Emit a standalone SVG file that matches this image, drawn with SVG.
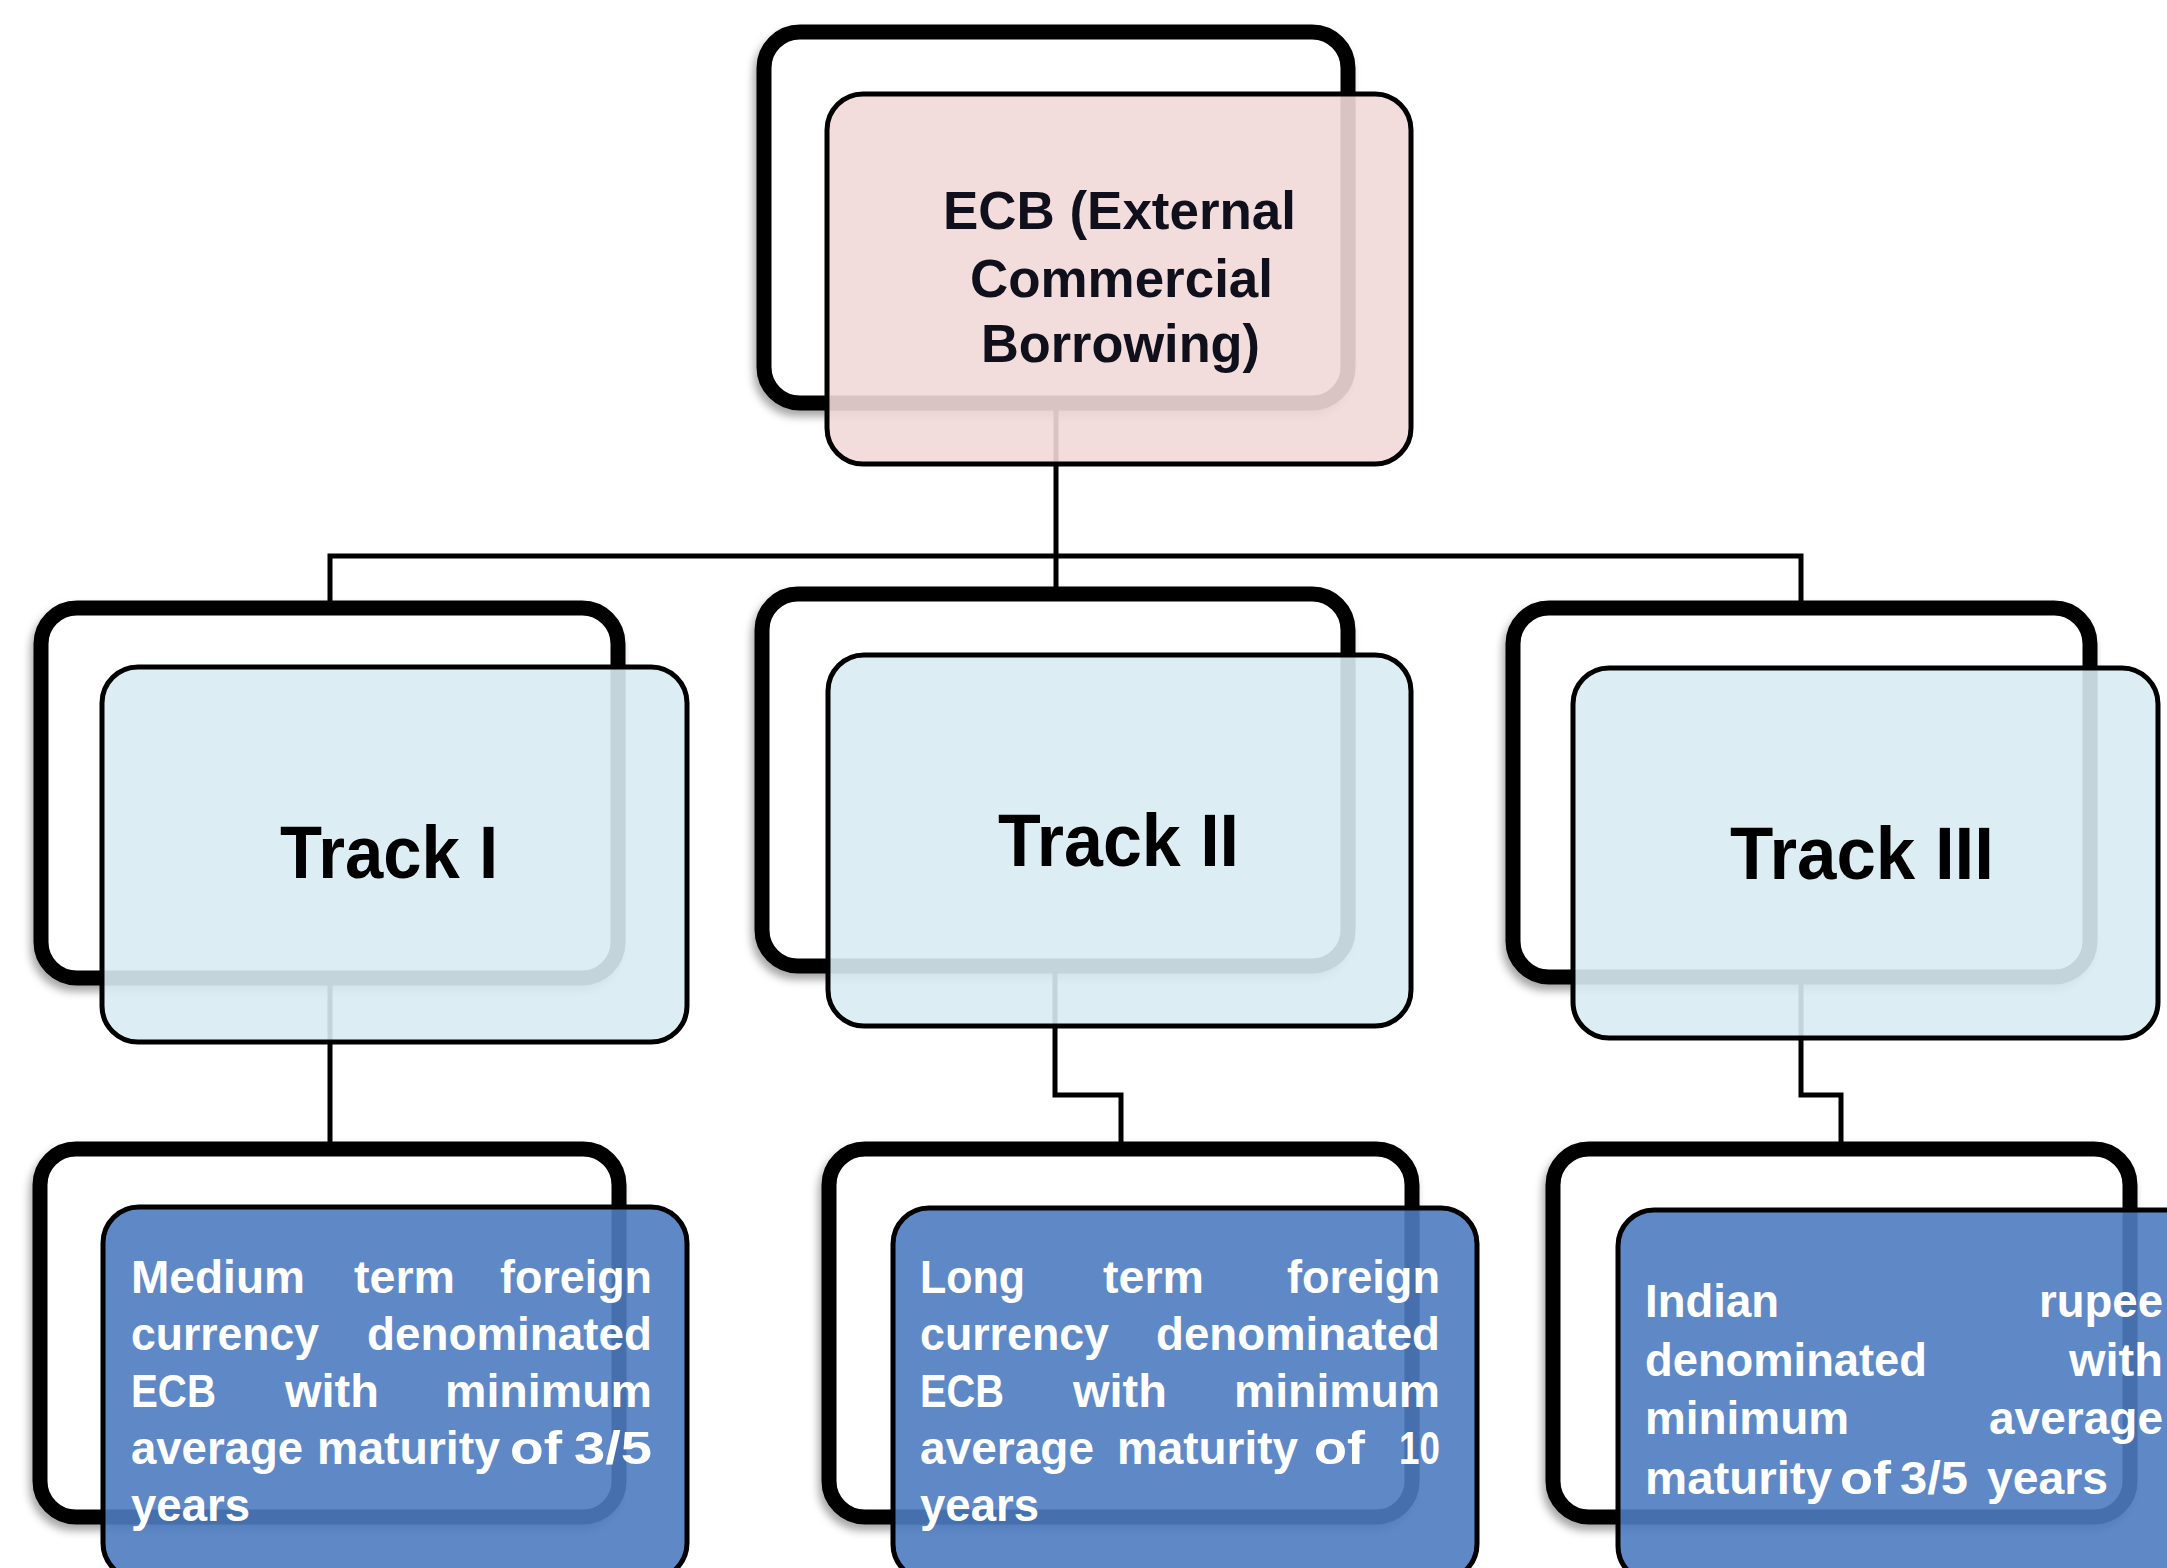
<svg xmlns="http://www.w3.org/2000/svg" width="2167" height="1568" viewBox="0 0 2167 1568">
<defs>
<filter id="sh" x="-10%" y="-10%" width="120%" height="125%">
<feDropShadow dx="-3" dy="6" stdDeviation="4" flood-color="#000" flood-opacity="0.35"/>
</filter>
<style>
.back{fill:#ffffff;stroke:#000;stroke-width:15;filter:url(#sh)}
.front{stroke:#000;stroke-width:5;fill-opacity:0.9}
.pink{fill:#f1d9d8}
.light{fill:#d8ecf2}
.dark{fill:#4d7cc0}
.conn{fill:none;stroke:#000;stroke-width:5}
.t{font-family:"Liberation Sans",Arial,sans-serif;font-weight:bold}
.top{font-size:53px;fill:#10101c}
.trk{font-size:74px;fill:#000}
.lt{font-size:46px;fill:#ffffff}
</style>
</defs>
<rect width="2167" height="1568" fill="#ffffff"/>

<g id="connectors">
<path class="conn" d="M1056 408 V594"/>
<path class="conn" d="M330 608 V556 H1801 V608"/>
<path class="conn" d="M330 978 V1149"/>
<path class="conn" d="M1055 966 V1095 H1121 V1149"/>
<path class="conn" d="M1801 977 V1095 H1841 V1149"/>
</g>

<g id="node-ecb">
<rect class="back" x="764" y="32" width="584" height="371" rx="36"/>
<rect class="front pink" x="827" y="94" width="584" height="370" rx="36"/>
<text class="t top" x="943" y="229" textLength="353" lengthAdjust="spacingAndGlyphs">ECB (External</text>
<text class="t top" x="970" y="297" textLength="303" lengthAdjust="spacingAndGlyphs">Commercial</text>
<text class="t top" x="981" y="362" textLength="279" lengthAdjust="spacingAndGlyphs">Borrowing)</text>
</g>

<g id="node-track1">
<rect class="back" x="41" y="608" width="577" height="370" rx="36"/>
<rect class="front light" x="102" y="667" width="585" height="375" rx="36"/>
<text class="t trk" x="280" y="878" textLength="218" lengthAdjust="spacingAndGlyphs">Track I</text>
</g>

<g id="node-track2">
<rect class="back" x="762" y="594" width="586" height="372" rx="36"/>
<rect class="front light" x="828" y="655" width="583" height="371" rx="36"/>
<text class="t trk" x="998" y="866" textLength="241" lengthAdjust="spacingAndGlyphs">Track II</text>
</g>

<g id="node-track3">
<rect class="back" x="1513" y="608" width="577" height="369" rx="36"/>
<rect class="front light" x="1573" y="668" width="585" height="370" rx="36"/>
<text class="t trk" x="1730" y="879" textLength="264" lengthAdjust="spacingAndGlyphs">Track III</text>
</g>

<g id="node-leaf1">
<rect class="back" x="40" y="1149" width="579" height="368" rx="36"/>
<rect class="front dark" x="103" y="1207" width="584" height="372" rx="36"/>
<g class="t lt">
<text x="131" y="1293" textLength="174" lengthAdjust="spacingAndGlyphs">Medium</text>
<text x="354" y="1293" textLength="101" lengthAdjust="spacingAndGlyphs">term</text>
<text x="500" y="1293" textLength="152" lengthAdjust="spacingAndGlyphs">foreign</text>
<text x="131" y="1350" textLength="188" lengthAdjust="spacingAndGlyphs">currency</text>
<text x="367" y="1350" textLength="285" lengthAdjust="spacingAndGlyphs">denominated</text>
<text x="131" y="1407" textLength="85" lengthAdjust="spacingAndGlyphs">ECB</text>
<text x="285" y="1407" textLength="94" lengthAdjust="spacingAndGlyphs">with</text>
<text x="445" y="1407" textLength="207" lengthAdjust="spacingAndGlyphs">minimum</text>
<text x="131" y="1464" textLength="172" lengthAdjust="spacingAndGlyphs">average</text>
<text x="317" y="1464" textLength="183" lengthAdjust="spacingAndGlyphs">maturity</text>
<text x="510" y="1464" textLength="52" lengthAdjust="spacingAndGlyphs">of</text>
<text x="574" y="1464" textLength="78" lengthAdjust="spacingAndGlyphs">3/5</text>
<text x="131" y="1521" textLength="119" lengthAdjust="spacingAndGlyphs">years</text>
</g>
</g>

<g id="node-leaf2">
<rect class="back" x="829" y="1149" width="583" height="368" rx="36"/>
<rect class="front dark" x="893" y="1208" width="584" height="372" rx="36"/>
<g class="t lt">
<text x="920" y="1293" textLength="105" lengthAdjust="spacingAndGlyphs">Long</text>
<text x="1103" y="1293" textLength="101" lengthAdjust="spacingAndGlyphs">term</text>
<text x="1287" y="1293" textLength="153" lengthAdjust="spacingAndGlyphs">foreign</text>
<text x="920" y="1350" textLength="189" lengthAdjust="spacingAndGlyphs">currency</text>
<text x="1156" y="1350" textLength="284" lengthAdjust="spacingAndGlyphs">denominated</text>
<text x="920" y="1407" textLength="84" lengthAdjust="spacingAndGlyphs">ECB</text>
<text x="1073" y="1407" textLength="94" lengthAdjust="spacingAndGlyphs">with</text>
<text x="1234" y="1407" textLength="206" lengthAdjust="spacingAndGlyphs">minimum</text>
<text x="920" y="1464" textLength="174" lengthAdjust="spacingAndGlyphs">average</text>
<text x="1117" y="1464" textLength="181" lengthAdjust="spacingAndGlyphs">maturity</text>
<text x="1314" y="1464" textLength="51" lengthAdjust="spacingAndGlyphs">of</text>
<text x="1399" y="1464" textLength="41" lengthAdjust="spacingAndGlyphs">10</text>
<text x="920" y="1521" textLength="119" lengthAdjust="spacingAndGlyphs">years</text>
</g>
</g>

<g id="node-leaf3">
<rect class="back" x="1553" y="1149" width="577" height="368" rx="36"/>
<rect class="front dark" x="1618" y="1210" width="584" height="372" rx="36"/>
<g class="t lt">
<text x="1645" y="1317" textLength="134" lengthAdjust="spacingAndGlyphs">Indian</text>
<text x="2039" y="1317" textLength="124" lengthAdjust="spacingAndGlyphs">rupee</text>
<text x="1645" y="1376" textLength="282" lengthAdjust="spacingAndGlyphs">denominated</text>
<text x="2069" y="1376" textLength="94" lengthAdjust="spacingAndGlyphs">with</text>
<text x="1645" y="1434" textLength="204" lengthAdjust="spacingAndGlyphs">minimum</text>
<text x="1989" y="1434" textLength="174" lengthAdjust="spacingAndGlyphs">average</text>
<text x="1645" y="1494" textLength="187" lengthAdjust="spacingAndGlyphs">maturity</text>
<text x="1840" y="1494" textLength="51" lengthAdjust="spacingAndGlyphs">of</text>
<text x="1900" y="1494" textLength="68" lengthAdjust="spacingAndGlyphs">3/5</text>
<text x="1987" y="1494" textLength="121" lengthAdjust="spacingAndGlyphs">years</text>
</g>
</g>
</svg>
